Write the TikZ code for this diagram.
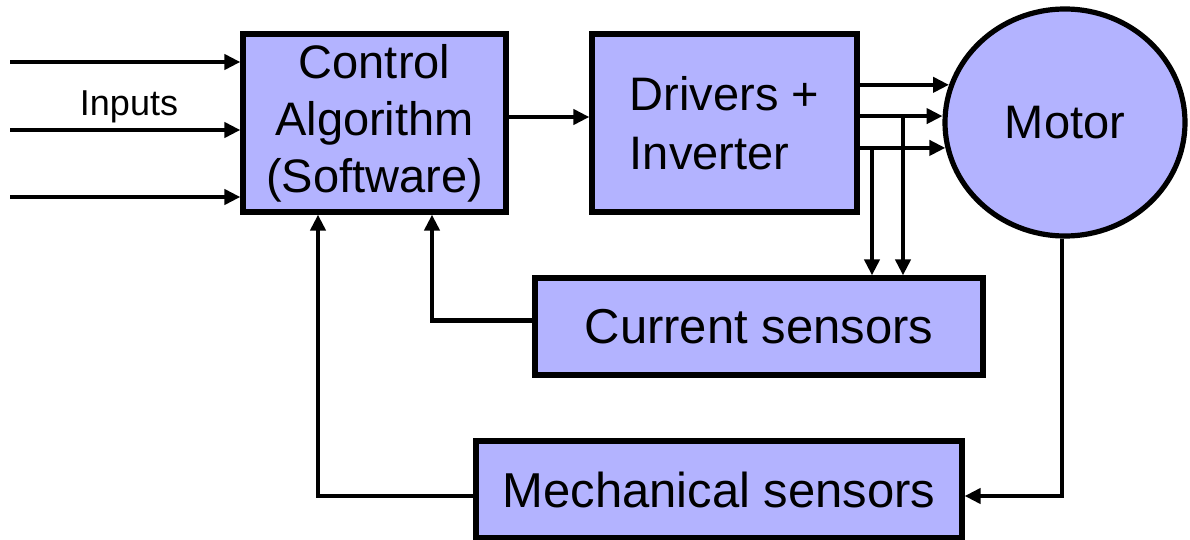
\documentclass[tikz,border=0pt]{standalone}
\usepackage{fontspec}
\setmainfont{Liberation Sans}
\usetikzlibrary{arrows.meta,shapes.geometric}
\definecolor{boxfill}{HTML}{B3B3FF}
\begin{document}
\begin{tikzpicture}[x=0.5pt,y=-0.5pt,
  blk/.style={draw,fill=boxfill,line width=2.6pt,inner sep=0pt,
    font=\fontsize{23.5}{28.5}\selectfont,align=center},
  conn/.style={line width=2.2pt},
  arr/.style={conn,-{Triangle[length=8pt,width=7.5pt]}}]
\useasboundingbox (0,0) rectangle (1190,540);
% blocks
\node[blk,minimum width=131.5pt,minimum height=89pt] (ctrl) at (374.5,123)
  {Control\\Algorithm\\(Software)};
\node[blk,align=left,minimum width=132.5pt,minimum height=89pt,
  font=\fontsize{23.5}{29.5}\selectfont] (drv) at (724.5,123)
  {Drivers +\\Inverter};
\node[blk,ellipse,minimum width=120pt,minimum height=113.5pt] (motor) at (1065,122.5) {Motor};
\node[blk,minimum width=224pt,minimum height=48.5pt,
  font=\fontsize{24.5}{28}\selectfont] (cur) at (759,326.5) {Current sensors};
\node[blk,minimum width=243pt,minimum height=48.5pt,
  font=\fontsize{24.5}{28}\selectfont] (mech) at (719,489.5) {Mechanical sensors};
% inputs
\coordinate (in1) at (10,62);
\coordinate (in2) at (10,130);
\coordinate (in3) at (10,197);
\draw[arr] (in1) -- (in1 -| ctrl.west);
\draw[arr] (in2) -- (in2 -| ctrl.west);
\draw[arr] (in3) -- (in3 -| ctrl.west);
\node[font=\fontsize{18}{20}\selectfont,inner sep=0pt] (inlbl) at (129,107) {Inputs};
% control -> drivers
\draw[arr] ([yshift=3pt]ctrl.east) -- ([yshift=3pt]drv.west);
% drivers -> motor
\draw[arr] (drv.east |- motor.162) -- (motor.162);
\draw[arr] (drv.east |- motor.177) -- (motor.177);
\draw[arr] (drv.east |- motor.192) -- (motor.192);
% taps to current sensors
\coordinate (t1) at (872,0);
\coordinate (t2) at (903,0);
\draw[arr] (t1 |- motor.192) -- (t1 |- cur.north);
\draw[arr] (t2 |- motor.177) -- (t2 |- cur.north);
% feedback
\draw[arr] ([yshift=3pt]cur.west) -| ([xshift=28.75pt]ctrl.south);
\draw[arr] ([xshift=-1.5pt]motor.south) |- ([yshift=-3.25pt]mech.east);
\draw[arr] ([yshift=-3.25pt]mech.west) -| ([xshift=-28.25pt]ctrl.south);
\end{tikzpicture}
\end{document}
